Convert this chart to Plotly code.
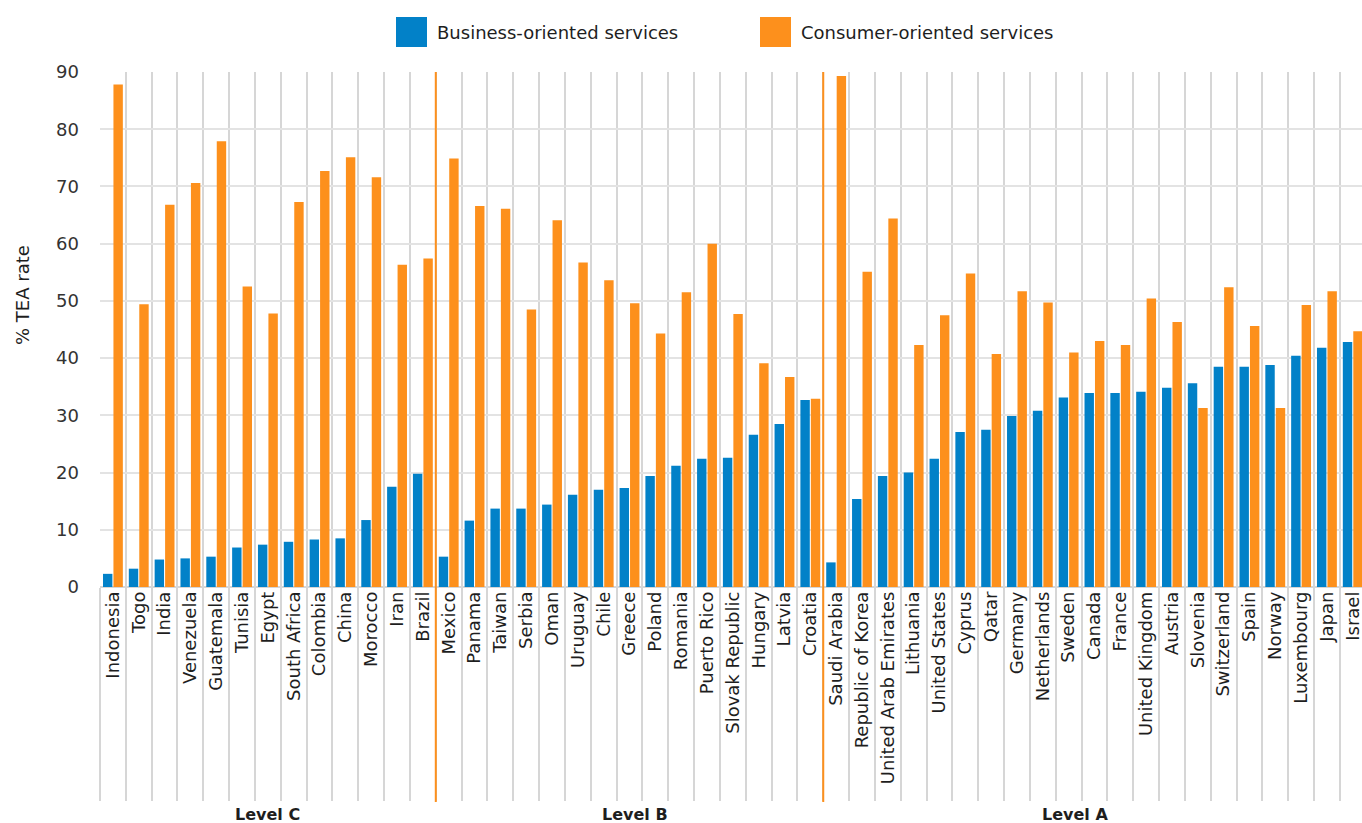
import plotly.graph_objects as go

level_c = ["Indonesia", "Togo", "India", "Venezuela", "Guatemala", "Tunisia", "Egypt",
           "South Africa", "Colombia", "China", "Morocco", "Iran", "Brazil"]
level_b = ["Mexico", "Panama", "Taiwan", "Serbia", "Oman", "Uruguay", "Chile", "Greece",
           "Poland", "Romania", "Puerto Rico", "Slovak Republic", "Hungary", "Latvia", "Croatia"]
level_a = ["Saudi Arabia", "Republic of Korea", "United Arab Emirates", "Lithuania",
           "United States", "Cyprus", "Qatar", "Germany", "Netherlands", "Sweden", "Canada",
           "France", "United Kingdom", "Austria", "Slovenia", "Switzerland", "Spain", "Norway",
           "Luxembourg", "Japan", "Israel"]

business_c = [2.3, 3.2, 4.8, 5.0, 5.3, 6.9, 7.4, 7.9, 8.3, 8.5, 11.7, 17.5, 19.8]
consumer_c = [87.8, 49.4, 66.8, 70.6, 77.9, 52.5, 47.8, 67.3, 72.7, 75.1, 71.6, 56.3, 57.4]

business_b = [5.3, 11.6, 13.7, 13.7, 14.4, 16.1, 17.0, 17.3, 19.4, 21.2, 22.4, 22.6, 26.6, 28.5, 32.7]
consumer_b = [74.9, 66.6, 66.1, 48.5, 64.1, 56.7, 53.6, 49.6, 44.3, 51.5, 60.0, 47.7, 39.1, 36.7, 32.9]

business_a = [4.3, 15.4, 19.4, 20.0, 22.4, 27.1, 27.5, 29.9, 30.8, 33.1, 33.9, 33.9, 34.1,
              34.8, 35.6, 38.5, 38.5, 38.8, 40.4, 41.8, 42.8]
consumer_a = [89.3, 55.1, 64.4, 42.3, 47.5, 54.8, 40.7, 51.7, 49.7, 41.0, 43.0, 42.3, 50.4,
              46.3, 31.3, 52.4, 45.6, 31.3, 49.3, 51.7, 44.7]

group_names = ["Level C", "Level B", "Level A"]
y_ticks = [0, 10, 20, 30, 40, 50, 60, 70, 80, 90]
y_title = "% TEA rate"

countries = level_c + level_b + level_a
business = business_c + business_b + business_a
consumer = consumer_c + consumer_b + consumer_a
group_sizes = [len(level_c), len(level_b), len(level_a)]

BLUE = "#0281c8"
ORANGE = "#fd901c"
FONT = "DejaVu Sans"
TXT = "#1e1e1e"

fig = go.Figure()
fig.add_trace(go.Bar(x=countries, y=business, name="Business-oriented services",
                     marker=dict(color=BLUE, line=dict(width=0)), showlegend=False))
fig.add_trace(go.Bar(x=countries, y=consumer, name="Consumer-oriented services",
                     marker=dict(color=ORANGE, line=dict(width=0)), showlegend=False))

W, H = 1362, 823
L, R, T, B = 100, 0, 72, 236
plot_h = H - T - B
plot_w = W - L - R
cat_px = 25.83
n_visible = plot_w / cat_px
label_shift = [0, 5, -19]

shapes = []
annotations = []
start = 0
for gi, (gname, size) in enumerate(zip(group_names, group_sizes)):
    end = start + size
    if gi > 0:
        shapes.append(dict(type="line", xref="x", yref="paper", x0=start - 0.5, x1=start - 0.5,
                           y0=-(802 - (H - B)) / plot_h, y1=1,
                           line=dict(color=ORANGE, width=2), layer="above"))
    annotations.append(dict(x=(start + end - 1) / 2, y=-(814 - (H - B)) / plot_h,
                            xref="x", yref="paper", text="<b>" + gname + "</b>",
                            xshift=label_shift[gi],
                            showarrow=False, font=dict(family=FONT, size=16, color=TXT),
                            xanchor="center", yanchor="middle"))
    start = end

legend_items = [("Business-oriented services", BLUE, 396), ("Consumer-oriented services", ORANGE, 760)]
for text, color, px in legend_items:
    shapes.append(dict(type="rect", xref="paper", yref="paper",
                       x0=(px - L) / plot_w, x1=(px + 31 - L) / plot_w,
                       y0=1 + (T - 47) / plot_h, y1=1 + (T - 17) / plot_h,
                       fillcolor=color, line=dict(width=0)))
    annotations.append(dict(x=(px + 39 - L) / plot_w, y=1 + (T - 32) / plot_h,
                            xref="paper", yref="paper", text=text, showarrow=False,
                            xanchor="left", yanchor="middle",
                            font=dict(family=FONT, size=18, color=TXT)))

annotations.append(dict(x=(22 - L) / plot_w, y=1 - (295 - T) / plot_h, xref="paper", yref="paper",
                        text=y_title, textangle=-90, showarrow=False,
                        xanchor="center", yanchor="middle",
                        font=dict(family=FONT, size=18, color=TXT)))

fig.update_layout(
    width=W, height=H,
    margin=dict(l=L, r=R, t=T, b=B),
    paper_bgcolor="white", plot_bgcolor="white",
    barmode="group", bargap=0.19, bargroupgap=0.1,
    font=dict(family=FONT, size=17, color=TXT),
    shapes=shapes, annotations=annotations,
    xaxis=dict(type="category", range=[-0.5, -0.5 + n_visible],
               tickson="boundaries", showgrid=True, gridcolor="#d6d6d6", gridwidth=2,
               ticks="outside", ticklen=213, tickcolor="#d6d6d6", tickwidth=2,
               tickangle=-90, tickfont=dict(family=FONT, size=18, color=TXT),
               showline=False, zeroline=False),
    yaxis=dict(range=[0, 90], tickvals=y_ticks, showgrid=True, gridcolor="#e3e3e3", gridwidth=2,
               zeroline=True, zerolinecolor="#d6d6d6", zerolinewidth=2,
               tickfont=dict(family=FONT, size=18, color="#333333"), ticks="", ticklabelstandoff=20),
)

html = fig.to_html(include_plotlyjs=True, full_html=True, config={"displayModeBar": False})
html = html.replace("<head>", "<head><style>html,body{margin:0;padding:0;overflow:hidden;}</style>", 1)
with open("out.html", "w", encoding="utf-8") as f:
    f.write(html)
